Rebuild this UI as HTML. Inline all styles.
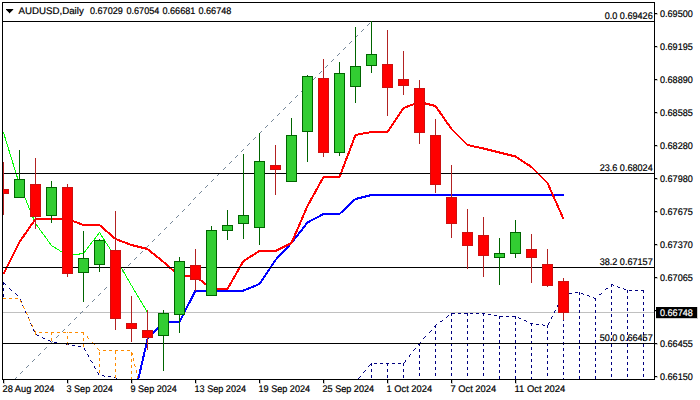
<!DOCTYPE html>
<html><head><meta charset="utf-8"><title>AUDUSD Daily</title>
<style>html,body{margin:0;padding:0;background:#fff}svg{display:block}</style>
</head><body>
<svg width="700" height="400" viewBox="0 0 700 400" shape-rendering="crispEdges">
<rect width="700" height="400" fill="#fff"/>
<defs><clipPath id="c"><rect x="3" y="3" width="651" height="376"/></clipPath></defs>
<g clip-path="url(#c)">
<rect x="3" y="312" width="651" height="1" fill="#c0c0c0"/>
<path d="M3 282h1v1h-1zM3 283h2v1h-2zM3 284h1v1h-1zM5 284h1v1h-1zM611 284h2v1h-2zM611 285h1v1h-1zM613 285h1v1h-1zM611 286h1v1h-1zM617 286h1v1h-1zM618 287h2v1h-2zM3 288h1v1h-1zM9 288h1v1h-1zM606 288h2v1h-2zM623 288h1v1h-1zM3 289h1v1h-1zM10 289h1v1h-1zM605 289h1v1h-1zM624 289h2v1h-2zM3 290h1v1h-1zM11 290h1v1h-1zM611 290h1v1h-1zM627 290h1v1h-1zM629 290h3v1h-3zM635 290h3v1h-3zM641 290h3v1h-3zM611 291h1v1h-1zM627 291h1v1h-1zM643 291h1v1h-1zM575 292h3v1h-3zM579 292h1v1h-1zM611 292h1v1h-1zM627 292h1v1h-1zM643 292h1v1h-1zM15 293h1v1h-1zM569 293h3v1h-3zM579 293h1v1h-1zM581 293h2v1h-2zM601 293h1v1h-1zM3 294h1v1h-1zM16 294h1v1h-1zM563 294h3v1h-3zM579 294h1v1h-1zM583 294h1v1h-1zM599 294h2v1h-2zM3 295h1v1h-1zM17 295h1v1h-1zM563 295h1v1h-1zM587 295h2v1h-2zM3 296h1v1h-1zM563 296h1v1h-1zM589 296h1v1h-1zM611 296h1v1h-1zM627 296h1v1h-1zM643 296h1v1h-1zM593 297h1v1h-1zM611 297h1v1h-1zM627 297h1v1h-1zM643 297h1v1h-1zM561 298h1v1h-1zM579 298h1v1h-1zM594 298h2v1h-2zM611 298h1v1h-1zM627 298h1v1h-1zM643 298h1v1h-1zM20 299h1v1h-1zM560 299h1v1h-1zM579 299h1v1h-1zM595 299h1v1h-1zM20 300h1v1h-1zM560 300h1v1h-1zM563 300h1v1h-1zM579 300h1v1h-1zM595 300h1v1h-1zM21 301h1v1h-1zM563 301h1v1h-1zM563 302h1v1h-1zM611 302h1v1h-1zM627 302h1v1h-1zM643 302h1v1h-1zM611 303h1v1h-1zM627 303h1v1h-1zM643 303h1v1h-1zM558 304h1v1h-1zM579 304h1v1h-1zM595 304h1v1h-1zM611 304h1v1h-1zM627 304h1v1h-1zM643 304h1v1h-1zM22 305h1v1h-1zM557 305h1v1h-1zM579 305h1v1h-1zM595 305h1v1h-1zM23 306h1v1h-1zM557 306h1v1h-1zM563 306h1v1h-1zM579 306h1v1h-1zM595 306h1v1h-1zM23 307h1v1h-1zM563 307h1v1h-1zM563 308h1v1h-1zM611 308h1v1h-1zM627 308h1v1h-1zM643 308h1v1h-1zM611 309h1v1h-1zM627 309h1v1h-1zM643 309h1v1h-1zM555 310h1v1h-1zM579 310h1v1h-1zM595 310h1v1h-1zM611 310h1v1h-1zM627 310h1v1h-1zM643 310h1v1h-1zM25 311h1v1h-1zM554 311h1v1h-1zM579 311h1v1h-1zM595 311h1v1h-1zM25 312h1v1h-1zM554 312h1v1h-1zM563 312h1v1h-1zM579 312h1v1h-1zM595 312h1v1h-1zM26 313h1v1h-1zM451 313h4v1h-4zM458 313h3v1h-3zM464 313h4v1h-4zM470 313h3v1h-3zM476 313h3v1h-3zM482 313h3v1h-3zM563 313h1v1h-1zM451 314h1v1h-1zM467 314h1v1h-1zM483 314h1v1h-1zM488 314h3v1h-3zM563 314h1v1h-1zM611 314h1v1h-1zM627 314h1v1h-1zM643 314h1v1h-1zM448 315h1v1h-1zM451 315h1v1h-1zM467 315h1v1h-1zM483 315h1v1h-1zM494 315h3v1h-3zM611 315h1v1h-1zM627 315h1v1h-1zM643 315h1v1h-1zM447 316h1v1h-1zM499 316h4v1h-4zM506 316h3v1h-3zM512 316h4v1h-4zM552 316h1v1h-1zM579 316h1v1h-1zM595 316h1v1h-1zM611 316h1v1h-1zM627 316h1v1h-1zM643 316h1v1h-1zM28 317h1v1h-1zM446 317h1v1h-1zM499 317h1v1h-1zM515 317h1v1h-1zM518 317h1v1h-1zM551 317h1v1h-1zM579 317h1v1h-1zM595 317h1v1h-1zM28 318h1v1h-1zM499 318h1v1h-1zM515 318h1v1h-1zM519 318h2v1h-2zM551 318h1v1h-1zM563 318h1v1h-1zM579 318h1v1h-1zM595 318h1v1h-1zM29 319h1v1h-1zM451 319h1v1h-1zM467 319h1v1h-1zM483 319h1v1h-1zM563 319h1v1h-1zM442 320h1v1h-1zM451 320h1v1h-1zM467 320h1v1h-1zM483 320h1v1h-1zM524 320h2v1h-2zM563 320h1v1h-1zM611 320h1v1h-1zM627 320h1v1h-1zM643 320h1v1h-1zM440 321h2v1h-2zM451 321h1v1h-1zM467 321h1v1h-1zM483 321h1v1h-1zM526 321h1v1h-1zM611 321h1v1h-1zM627 321h1v1h-1zM643 321h1v1h-1zM499 322h1v1h-1zM515 322h1v1h-1zM549 322h1v1h-1zM579 322h1v1h-1zM595 322h1v1h-1zM611 322h1v1h-1zM627 322h1v1h-1zM643 322h1v1h-1zM30 323h1v1h-1zM499 323h1v1h-1zM515 323h1v1h-1zM530 323h3v1h-3zM548 323h1v1h-1zM579 323h1v1h-1zM595 323h1v1h-1zM31 324h1v1h-1zM436 324h1v1h-1zM499 324h1v1h-1zM515 324h1v1h-1zM531 324h1v1h-1zM536 324h3v1h-3zM542 324h1v1h-1zM548 324h1v1h-1zM563 324h1v1h-1zM579 324h1v1h-1zM595 324h1v1h-1zM31 325h1v1h-1zM435 325h1v1h-1zM451 325h1v1h-1zM467 325h1v1h-1zM483 325h1v1h-1zM531 325h1v1h-1zM543 325h2v1h-2zM547 325h1v1h-1zM563 325h1v1h-1zM434 326h2v1h-2zM451 326h1v1h-1zM467 326h1v1h-1zM483 326h1v1h-1zM547 326h1v1h-1zM563 326h1v1h-1zM611 326h1v1h-1zM627 326h1v1h-1zM643 326h1v1h-1zM435 327h1v1h-1zM451 327h1v1h-1zM467 327h1v1h-1zM483 327h1v1h-1zM547 327h1v1h-1zM611 327h1v1h-1zM627 327h1v1h-1zM643 327h1v1h-1zM499 328h1v1h-1zM515 328h1v1h-1zM579 328h1v1h-1zM595 328h1v1h-1zM611 328h1v1h-1zM627 328h1v1h-1zM643 328h1v1h-1zM33 329h1v1h-1zM499 329h1v1h-1zM515 329h1v1h-1zM531 329h1v1h-1zM579 329h1v1h-1zM595 329h1v1h-1zM33 330h1v1h-1zM431 330h1v1h-1zM499 330h1v1h-1zM515 330h1v1h-1zM531 330h1v1h-1zM563 330h1v1h-1zM579 330h1v1h-1zM595 330h1v1h-1zM34 331h1v1h-1zM430 331h1v1h-1zM435 331h1v1h-1zM451 331h1v1h-1zM467 331h1v1h-1zM483 331h1v1h-1zM531 331h1v1h-1zM547 331h1v1h-1zM563 331h1v1h-1zM429 332h1v1h-1zM435 332h1v1h-1zM451 332h1v1h-1zM467 332h1v1h-1zM483 332h1v1h-1zM547 332h1v1h-1zM563 332h1v1h-1zM611 332h1v1h-1zM627 332h1v1h-1zM643 332h1v1h-1zM435 333h1v1h-1zM451 333h1v1h-1zM467 333h1v1h-1zM483 333h1v1h-1zM547 333h1v1h-1zM611 333h1v1h-1zM627 333h1v1h-1zM643 333h1v1h-1zM36 334h1v1h-1zM499 334h1v1h-1zM515 334h1v1h-1zM579 334h1v1h-1zM595 334h1v1h-1zM611 334h1v1h-1zM627 334h1v1h-1zM643 334h1v1h-1zM37 335h2v1h-2zM499 335h1v1h-1zM515 335h1v1h-1zM531 335h1v1h-1zM579 335h1v1h-1zM595 335h1v1h-1zM425 336h1v1h-1zM499 336h1v1h-1zM515 336h1v1h-1zM531 336h1v1h-1zM563 336h1v1h-1zM579 336h1v1h-1zM595 336h1v1h-1zM42 337h1v1h-1zM424 337h1v1h-1zM435 337h1v1h-1zM451 337h1v1h-1zM467 337h1v1h-1zM483 337h1v1h-1zM531 337h1v1h-1zM547 337h1v1h-1zM563 337h1v1h-1zM43 338h2v1h-2zM423 338h1v1h-1zM435 338h1v1h-1zM451 338h1v1h-1zM467 338h1v1h-1zM483 338h1v1h-1zM547 338h1v1h-1zM563 338h1v1h-1zM611 338h1v1h-1zM627 338h1v1h-1zM643 338h1v1h-1zM435 339h1v1h-1zM451 339h1v1h-1zM467 339h1v1h-1zM483 339h1v1h-1zM547 339h1v1h-1zM611 339h1v1h-1zM627 339h1v1h-1zM643 339h1v1h-1zM48 340h2v1h-2zM499 340h1v1h-1zM515 340h1v1h-1zM579 340h1v1h-1zM595 340h1v1h-1zM611 340h1v1h-1zM627 340h1v1h-1zM643 340h1v1h-1zM50 341h1v1h-1zM499 341h1v1h-1zM515 341h1v1h-1zM531 341h1v1h-1zM579 341h1v1h-1zM595 341h1v1h-1zM54 342h3v1h-3zM420 342h1v1h-1zM499 342h1v1h-1zM515 342h1v1h-1zM531 342h1v1h-1zM563 342h1v1h-1zM579 342h1v1h-1zM595 342h1v1h-1zM60 343h3v1h-3zM419 343h1v1h-1zM435 343h1v1h-1zM451 343h1v1h-1zM467 343h1v1h-1zM483 343h1v1h-1zM531 343h1v1h-1zM547 343h1v1h-1zM563 343h1v1h-1zM66 344h3v1h-3zM418 344h2v1h-2zM435 344h1v1h-1zM451 344h1v1h-1zM467 344h1v1h-1zM483 344h1v1h-1zM547 344h1v1h-1zM563 344h1v1h-1zM611 344h1v1h-1zM627 344h1v1h-1zM643 344h1v1h-1zM72 345h3v1h-3zM419 345h1v1h-1zM435 345h1v1h-1zM451 345h1v1h-1zM467 345h1v1h-1zM483 345h1v1h-1zM547 345h1v1h-1zM611 345h1v1h-1zM627 345h1v1h-1zM643 345h1v1h-1zM78 346h3v1h-3zM499 346h1v1h-1zM515 346h1v1h-1zM579 346h1v1h-1zM595 346h1v1h-1zM611 346h1v1h-1zM627 346h1v1h-1zM643 346h1v1h-1zM499 347h1v1h-1zM515 347h1v1h-1zM531 347h1v1h-1zM579 347h1v1h-1zM595 347h1v1h-1zM84 348h1v1h-1zM415 348h1v1h-1zM499 348h1v1h-1zM515 348h1v1h-1zM531 348h1v1h-1zM563 348h1v1h-1zM579 348h1v1h-1zM595 348h1v1h-1zM84 349h1v1h-1zM414 349h1v1h-1zM419 349h1v1h-1zM435 349h1v1h-1zM451 349h1v1h-1zM467 349h1v1h-1zM483 349h1v1h-1zM531 349h1v1h-1zM547 349h1v1h-1zM563 349h1v1h-1zM85 350h1v1h-1zM413 350h1v1h-1zM419 350h1v1h-1zM435 350h1v1h-1zM451 350h1v1h-1zM467 350h1v1h-1zM483 350h1v1h-1zM547 350h1v1h-1zM563 350h1v1h-1zM611 350h1v1h-1zM627 350h1v1h-1zM643 350h1v1h-1zM419 351h1v1h-1zM435 351h1v1h-1zM451 351h1v1h-1zM467 351h1v1h-1zM483 351h1v1h-1zM547 351h1v1h-1zM611 351h1v1h-1zM627 351h1v1h-1zM643 351h1v1h-1zM499 352h1v1h-1zM515 352h1v1h-1zM579 352h1v1h-1zM595 352h1v1h-1zM611 352h1v1h-1zM627 352h1v1h-1zM643 352h1v1h-1zM499 353h1v1h-1zM515 353h1v1h-1zM531 353h1v1h-1zM579 353h1v1h-1zM595 353h1v1h-1zM87 354h1v1h-1zM410 354h1v1h-1zM499 354h1v1h-1zM515 354h1v1h-1zM531 354h1v1h-1zM563 354h1v1h-1zM579 354h1v1h-1zM595 354h1v1h-1zM88 355h1v1h-1zM409 355h1v1h-1zM419 355h1v1h-1zM435 355h1v1h-1zM451 355h1v1h-1zM467 355h1v1h-1zM483 355h1v1h-1zM531 355h1v1h-1zM547 355h1v1h-1zM563 355h1v1h-1zM88 356h1v1h-1zM409 356h1v1h-1zM419 356h1v1h-1zM435 356h1v1h-1zM451 356h1v1h-1zM467 356h1v1h-1zM483 356h1v1h-1zM547 356h1v1h-1zM563 356h1v1h-1zM611 356h1v1h-1zM627 356h1v1h-1zM643 356h1v1h-1zM419 357h1v1h-1zM435 357h1v1h-1zM451 357h1v1h-1zM467 357h1v1h-1zM483 357h1v1h-1zM547 357h1v1h-1zM611 357h1v1h-1zM627 357h1v1h-1zM643 357h1v1h-1zM499 358h1v1h-1zM515 358h1v1h-1zM579 358h1v1h-1zM595 358h1v1h-1zM611 358h1v1h-1zM627 358h1v1h-1zM643 358h1v1h-1zM499 359h1v1h-1zM515 359h1v1h-1zM531 359h1v1h-1zM579 359h1v1h-1zM595 359h1v1h-1zM90 360h1v1h-1zM405 360h1v1h-1zM499 360h1v1h-1zM515 360h1v1h-1zM531 360h1v1h-1zM563 360h1v1h-1zM579 360h1v1h-1zM595 360h1v1h-1zM91 361h1v1h-1zM405 361h1v1h-1zM419 361h1v1h-1zM435 361h1v1h-1zM451 361h1v1h-1zM467 361h1v1h-1zM483 361h1v1h-1zM531 361h1v1h-1zM547 361h1v1h-1zM563 361h1v1h-1zM92 362h1v1h-1zM404 362h1v1h-1zM419 362h1v1h-1zM435 362h1v1h-1zM451 362h1v1h-1zM467 362h1v1h-1zM483 362h1v1h-1zM547 362h1v1h-1zM563 362h1v1h-1zM611 362h1v1h-1zM627 362h1v1h-1zM643 362h1v1h-1zM371 363h1v1h-1zM374 363h3v1h-3zM380 363h3v1h-3zM386 363h3v1h-3zM392 363h3v1h-3zM398 363h3v1h-3zM403 363h1v1h-1zM419 363h1v1h-1zM435 363h1v1h-1zM451 363h1v1h-1zM467 363h1v1h-1zM483 363h1v1h-1zM547 363h1v1h-1zM611 363h1v1h-1zM627 363h1v1h-1zM643 363h1v1h-1zM370 364h2v1h-2zM387 364h1v1h-1zM403 364h1v1h-1zM499 364h1v1h-1zM515 364h1v1h-1zM579 364h1v1h-1zM595 364h1v1h-1zM611 364h1v1h-1zM627 364h1v1h-1zM643 364h1v1h-1zM369 365h1v1h-1zM371 365h1v1h-1zM387 365h1v1h-1zM403 365h1v1h-1zM499 365h1v1h-1zM515 365h1v1h-1zM531 365h1v1h-1zM579 365h1v1h-1zM595 365h1v1h-1zM94 366h1v1h-1zM368 366h1v1h-1zM499 366h1v1h-1zM515 366h1v1h-1zM531 366h1v1h-1zM563 366h1v1h-1zM579 366h1v1h-1zM595 366h1v1h-1zM94 367h1v1h-1zM419 367h1v1h-1zM435 367h1v1h-1zM451 367h1v1h-1zM467 367h1v1h-1zM483 367h1v1h-1zM531 367h1v1h-1zM547 367h1v1h-1zM563 367h1v1h-1zM95 368h1v1h-1zM419 368h1v1h-1zM435 368h1v1h-1zM451 368h1v1h-1zM467 368h1v1h-1zM483 368h1v1h-1zM547 368h1v1h-1zM563 368h1v1h-1zM611 368h1v1h-1zM627 368h1v1h-1zM643 368h1v1h-1zM371 369h1v1h-1zM387 369h1v1h-1zM403 369h1v1h-1zM419 369h1v1h-1zM435 369h1v1h-1zM451 369h1v1h-1zM467 369h1v1h-1zM483 369h1v1h-1zM547 369h1v1h-1zM611 369h1v1h-1zM627 369h1v1h-1zM643 369h1v1h-1zM365 370h1v1h-1zM371 370h1v1h-1zM387 370h1v1h-1zM403 370h1v1h-1zM499 370h1v1h-1zM515 370h1v1h-1zM579 370h1v1h-1zM595 370h1v1h-1zM611 370h1v1h-1zM627 370h1v1h-1zM643 370h1v1h-1zM364 371h1v1h-1zM371 371h1v1h-1zM387 371h1v1h-1zM403 371h1v1h-1zM499 371h1v1h-1zM515 371h1v1h-1zM531 371h1v1h-1zM579 371h1v1h-1zM595 371h1v1h-1zM97 372h1v1h-1zM363 372h1v1h-1zM499 372h1v1h-1zM515 372h1v1h-1zM531 372h1v1h-1zM563 372h1v1h-1zM579 372h1v1h-1zM595 372h1v1h-1zM98 373h1v1h-1zM419 373h1v1h-1zM435 373h1v1h-1zM451 373h1v1h-1zM467 373h1v1h-1zM483 373h1v1h-1zM531 373h1v1h-1zM547 373h1v1h-1zM563 373h1v1h-1zM98 374h1v1h-1zM419 374h1v1h-1zM435 374h1v1h-1zM451 374h1v1h-1zM467 374h1v1h-1zM483 374h1v1h-1zM547 374h1v1h-1zM563 374h1v1h-1zM611 374h1v1h-1zM627 374h1v1h-1zM643 374h1v1h-1zM102 375h2v1h-2zM371 375h1v1h-1zM387 375h1v1h-1zM403 375h1v1h-1zM419 375h1v1h-1zM435 375h1v1h-1zM451 375h1v1h-1zM467 375h1v1h-1zM483 375h1v1h-1zM547 375h1v1h-1zM611 375h1v1h-1zM627 375h1v1h-1zM643 375h1v1h-1zM104 376h1v1h-1zM108 376h3v1h-3zM360 376h1v1h-1zM371 376h1v1h-1zM387 376h1v1h-1zM403 376h1v1h-1zM499 376h1v1h-1zM515 376h1v1h-1zM579 376h1v1h-1zM595 376h1v1h-1zM611 376h1v1h-1zM627 376h1v1h-1zM643 376h1v1h-1zM114 377h2v1h-2zM359 377h1v1h-1zM371 377h1v1h-1zM387 377h1v1h-1zM403 377h1v1h-1zM499 377h1v1h-1zM515 377h1v1h-1zM531 377h1v1h-1zM579 377h1v1h-1zM595 377h1v1h-1zM116 378h1v1h-1zM358 378h1v1h-1zM499 378h1v1h-1zM515 378h1v1h-1zM531 378h1v1h-1zM563 378h1v1h-1zM579 378h1v1h-1zM595 378h1v1h-1z" fill="#000080"/>
<path d="M3 298h3v1h-3zM9 298h3v1h-3zM15 298h3v1h-3zM20 300h1v1h-1zM20 301h1v1h-1zM21 302h1v1h-1zM23 306h1v1h-1zM23 307h1v1h-1zM24 308h1v1h-1zM26 312h1v1h-1zM26 313h1v1h-1zM27 314h1v1h-1zM28 318h1v1h-1zM29 319h1v1h-1zM29 320h1v1h-1zM31 324h1v1h-1zM32 325h1v1h-1zM32 326h1v1h-1zM34 330h1v1h-1zM35 331h1v1h-1zM35 332h1v1h-1zM39 332h3v1h-3zM45 332h3v1h-3zM51 332h3v1h-3zM57 332h3v1h-3zM63 332h3v1h-3zM67 332h1v1h-1zM69 332h3v1h-3zM75 332h3v1h-3zM81 332h3v1h-3zM35 333h1v1h-1zM51 333h1v1h-1zM83 333h1v1h-1zM35 334h1v1h-1zM51 334h1v1h-1zM83 334h1v1h-1zM67 336h1v1h-1zM87 336h1v1h-1zM67 337h1v1h-1zM87 337h1v1h-1zM51 338h1v1h-1zM67 338h1v1h-1zM83 338h1v1h-1zM88 338h1v1h-1zM51 339h1v1h-1zM83 339h1v1h-1zM51 340h1v1h-1zM83 340h1v1h-1zM67 342h1v1h-1zM92 342h1v1h-1zM67 343h1v1h-1zM93 343h1v1h-1zM67 344h1v1h-1zM83 344h1v1h-1zM94 344h1v1h-1zM83 345h1v1h-1zM83 346h1v1h-1zM97 348h1v1h-1zM98 349h1v1h-1zM99 350h1v1h-1zM103 350h3v1h-3zM109 350h3v1h-3zM115 350h3v1h-3zM121 350h3v1h-3zM127 350h3v1h-3zM115 351h1v1h-1zM99 352h1v1h-1zM115 352h1v1h-1zM131 352h1v1h-1zM99 353h1v1h-1zM115 353h1v1h-1zM131 353h2v1h-2zM99 354h1v1h-1zM131 354h2v1h-2zM131 355h1v1h-1zM115 357h1v1h-1zM99 358h1v1h-1zM115 358h1v1h-1zM133 358h1v1h-1zM99 359h1v1h-1zM115 359h1v1h-1zM131 359h1v1h-1zM133 359h1v1h-1zM99 360h1v1h-1zM131 360h1v1h-1zM133 360h1v1h-1zM131 361h1v1h-1zM115 363h1v1h-1zM99 364h1v1h-1zM115 364h1v1h-1zM134 364h1v1h-1zM99 365h1v1h-1zM115 365h1v1h-1zM131 365h1v1h-1zM134 365h1v1h-1zM99 366h1v1h-1zM131 366h1v1h-1zM135 366h1v1h-1zM131 367h1v1h-1zM115 369h1v1h-1zM99 370h1v1h-1zM115 370h1v1h-1zM136 370h1v1h-1zM99 371h1v1h-1zM115 371h1v1h-1zM131 371h1v1h-1zM136 371h1v1h-1zM99 372h1v1h-1zM131 372h1v1h-1zM136 372h1v1h-1zM131 373h1v1h-1zM115 375h1v1h-1zM115 376h1v1h-1zM137 376h1v1h-1zM115 377h1v1h-1zM131 377h1v1h-1zM137 377h1v1h-1zM131 378h1v1h-1zM137 378h1v1h-1z" fill="#ff8c00"/>
<polyline points="3.5,132.5 19.5,184.5 35.5,223.5 51.5,245.5 67.5,255.5 83.5,253.5 99.5,232.5 115.5,257.5 131.5,285.5 147.5,312.5" fill="none" stroke="#00ff00" stroke-width="1" />
<polyline points="131.5,409 147.5,339 163.5,322 179.5,322 195.5,290.5 211.5,290.5 227.5,290.5 243.5,290.5 259.5,284 275.5,260 291.5,243 307.5,222.5 323.5,214 339.5,214 355.5,199 371.5,195 387.5,195 403.5,195 419.5,195 435.5,195 451.5,195 467.5,195 483.5,195 499.5,195 515.5,195 531.5,195 547.5,195 563.5,195" fill="none" stroke="#0000ff" stroke-width="2" stroke-linejoin="round"/>
<polyline points="3.5,274 19.5,242 35.5,219 51.5,219 67.5,219 83.5,225 99.5,225 115.5,239 131.5,245 147.5,249 163.5,262 179.5,276 195.5,276 211.5,289 227.5,289 243.5,261 259.5,251 275.5,251 291.5,243 307.5,206 323.5,177 339.5,177 355.5,135 371.5,132 387.5,132 403.5,108 419.5,102 435.5,106 451.5,129 467.5,145 483.5,148.5 499.5,152.5 515.5,156.5 531.5,167 547.5,183 563.5,219" fill="none" stroke="#ff0000" stroke-width="2" stroke-linejoin="round"/>
<path d="M369 23h1v1h-1zM368 24h1v1h-1zM367 25h1v1h-1zM363 29h1v1h-1zM362 30h1v1h-1zM361 31h1v1h-1zM357 35h1v1h-1zM356 36h1v1h-1zM355 37h1v1h-1zM351 41h1v1h-1zM350 42h1v1h-1zM349 43h1v1h-1zM345 47h1v1h-1zM344 48h1v1h-1zM343 49h1v1h-1zM339 53h1v1h-1zM338 54h1v1h-1zM337 55h1v1h-1zM333 59h1v1h-1zM332 60h1v1h-1zM331 61h1v1h-1zM327 65h1v1h-1zM326 66h1v1h-1zM325 67h1v1h-1zM321 71h1v1h-1zM320 72h1v1h-1zM319 73h1v1h-1zM315 77h1v1h-1zM314 78h1v1h-1zM313 79h1v1h-1zM309 83h1v1h-1zM308 84h1v1h-1zM307 85h1v1h-1zM303 89h1v1h-1zM302 90h1v1h-1zM301 91h1v1h-1zM297 95h1v1h-1zM296 96h1v1h-1zM295 97h1v1h-1zM291 101h1v1h-1zM290 102h1v1h-1zM289 103h1v1h-1zM285 107h1v1h-1zM284 108h1v1h-1zM283 109h1v1h-1zM279 113h1v1h-1zM278 114h1v1h-1zM277 115h1v1h-1zM273 119h1v1h-1zM272 120h1v1h-1zM271 121h1v1h-1zM267 125h1v1h-1zM266 126h1v1h-1zM265 127h1v1h-1zM261 131h1v1h-1zM260 132h1v1h-1zM259 133h1v1h-1zM255 137h1v1h-1zM254 138h1v1h-1zM253 139h1v1h-1zM249 143h1v1h-1zM248 144h1v1h-1zM247 145h1v1h-1zM243 149h1v1h-1zM242 150h1v1h-1zM241 151h1v1h-1zM237 155h1v1h-1zM236 156h1v1h-1zM235 157h1v1h-1zM231 161h1v1h-1zM230 162h1v1h-1zM229 163h1v1h-1zM225 167h1v1h-1zM224 168h1v1h-1zM223 169h1v1h-1zM219 173h1v1h-1zM218 174h1v1h-1zM217 175h1v1h-1zM213 179h1v1h-1zM212 180h1v1h-1zM211 181h1v1h-1zM207 185h1v1h-1zM206 186h1v1h-1zM205 187h1v1h-1zM201 191h1v1h-1zM200 192h1v1h-1zM199 193h1v1h-1zM195 197h1v1h-1zM194 198h1v1h-1zM193 199h1v1h-1zM190 203h1v1h-1zM189 204h1v1h-1zM188 205h1v1h-1zM184 209h1v1h-1zM183 210h1v1h-1zM182 211h1v1h-1zM178 215h1v1h-1zM177 216h1v1h-1zM176 217h1v1h-1zM172 221h1v1h-1zM171 222h1v1h-1zM170 223h1v1h-1zM166 227h1v1h-1zM165 228h1v1h-1zM164 229h1v1h-1zM160 233h1v1h-1zM159 234h1v1h-1zM158 235h1v1h-1zM154 239h1v1h-1zM153 240h1v1h-1zM152 241h1v1h-1zM148 245h1v1h-1zM147 246h1v1h-1zM146 247h1v1h-1zM142 251h1v1h-1zM141 252h1v1h-1zM140 253h1v1h-1zM136 257h1v1h-1zM135 258h1v1h-1zM134 259h1v1h-1zM130 263h1v1h-1zM129 264h1v1h-1zM128 265h1v1h-1zM124 269h1v1h-1zM123 270h1v1h-1zM122 271h1v1h-1zM118 275h1v1h-1zM117 276h1v1h-1zM116 277h1v1h-1zM112 281h1v1h-1zM111 282h1v1h-1zM110 283h1v1h-1zM106 287h1v1h-1zM105 288h1v1h-1zM104 289h1v1h-1zM100 293h1v1h-1zM99 294h1v1h-1zM98 295h1v1h-1zM94 299h1v1h-1zM93 300h1v1h-1zM92 301h1v1h-1zM88 305h1v1h-1zM87 306h1v1h-1zM86 307h1v1h-1zM82 311h1v1h-1zM81 312h1v1h-1zM80 313h1v1h-1zM76 317h1v1h-1zM75 318h1v1h-1zM74 319h1v1h-1zM70 323h1v1h-1zM69 324h1v1h-1zM68 325h1v1h-1zM64 329h1v1h-1zM63 330h1v1h-1zM62 331h1v1h-1zM58 335h1v1h-1zM57 336h1v1h-1zM56 337h1v1h-1zM52 341h1v1h-1zM51 342h1v1h-1zM50 343h1v1h-1zM46 347h1v1h-1zM45 348h1v1h-1zM44 349h1v1h-1zM40 353h1v1h-1zM39 354h1v1h-1zM38 355h1v1h-1zM34 359h1v1h-1zM33 360h1v1h-1zM32 361h1v1h-1zM28 365h1v1h-1zM27 366h1v1h-1zM26 367h1v1h-1zM22 371h1v1h-1zM21 372h1v1h-1zM20 373h1v1h-1zM16 377h1v1h-1zM15 378h1v1h-1z" fill="#778899"/>
<rect x="3" y="21" width="651" height="1" fill="#000"/>
<rect x="3" y="173" width="651" height="1" fill="#000"/>
<rect x="3" y="267" width="651" height="1" fill="#000"/>
<rect x="3" y="343" width="651" height="1" fill="#000"/>
<rect x="3" y="162" width="1" height="53" fill="#b22222"/>
<rect x="-2" y="189" width="11" height="5" fill="#cc1010"/>
<rect x="-1" y="190" width="9" height="3" fill="#ff0000"/>
<rect x="19" y="150" width="1" height="48" fill="#006400"/>
<rect x="14" y="179" width="11" height="19" fill="#006400"/>
<rect x="15" y="180" width="9" height="17" fill="#32cd32"/>
<rect x="35" y="158" width="1" height="71" fill="#b22222"/>
<rect x="30" y="184" width="11" height="33" fill="#cc1010"/>
<rect x="31" y="185" width="9" height="31" fill="#ff0000"/>
<rect x="51" y="181" width="1" height="42" fill="#006400"/>
<rect x="46" y="187" width="11" height="29" fill="#006400"/>
<rect x="47" y="188" width="9" height="27" fill="#32cd32"/>
<rect x="67" y="184" width="1" height="93" fill="#b22222"/>
<rect x="62" y="187" width="11" height="87" fill="#cc1010"/>
<rect x="63" y="188" width="9" height="85" fill="#ff0000"/>
<rect x="83" y="231" width="1" height="71" fill="#006400"/>
<rect x="78" y="258" width="11" height="15" fill="#006400"/>
<rect x="79" y="259" width="9" height="13" fill="#32cd32"/>
<rect x="99" y="239" width="1" height="33" fill="#006400"/>
<rect x="94" y="240" width="11" height="25" fill="#006400"/>
<rect x="95" y="241" width="9" height="23" fill="#32cd32"/>
<rect x="115" y="211" width="1" height="119" fill="#b22222"/>
<rect x="110" y="250" width="11" height="69" fill="#cc1010"/>
<rect x="111" y="251" width="9" height="67" fill="#ff0000"/>
<rect x="131" y="296" width="1" height="46" fill="#b22222"/>
<rect x="126" y="323" width="11" height="6" fill="#cc1010"/>
<rect x="127" y="324" width="9" height="4" fill="#ff0000"/>
<rect x="147" y="310" width="1" height="40" fill="#b22222"/>
<rect x="142" y="330" width="11" height="8" fill="#cc1010"/>
<rect x="143" y="331" width="9" height="6" fill="#ff0000"/>
<rect x="163" y="310" width="1" height="61" fill="#006400"/>
<rect x="158" y="313" width="11" height="23" fill="#006400"/>
<rect x="159" y="314" width="9" height="21" fill="#32cd32"/>
<rect x="179" y="257" width="1" height="76" fill="#006400"/>
<rect x="174" y="261" width="11" height="54" fill="#006400"/>
<rect x="175" y="262" width="9" height="52" fill="#32cd32"/>
<rect x="195" y="249" width="1" height="42" fill="#b22222"/>
<rect x="190" y="265" width="11" height="15" fill="#cc1010"/>
<rect x="191" y="266" width="9" height="13" fill="#ff0000"/>
<rect x="211" y="226" width="1" height="70" fill="#006400"/>
<rect x="206" y="230" width="11" height="66" fill="#006400"/>
<rect x="207" y="231" width="9" height="64" fill="#32cd32"/>
<rect x="227" y="210" width="1" height="30" fill="#006400"/>
<rect x="222" y="225" width="11" height="6" fill="#006400"/>
<rect x="223" y="226" width="9" height="4" fill="#32cd32"/>
<rect x="243" y="154" width="1" height="85" fill="#006400"/>
<rect x="238" y="215" width="11" height="9" fill="#006400"/>
<rect x="239" y="216" width="9" height="7" fill="#32cd32"/>
<rect x="259" y="133" width="1" height="112" fill="#006400"/>
<rect x="254" y="161" width="11" height="67" fill="#006400"/>
<rect x="255" y="162" width="9" height="65" fill="#32cd32"/>
<rect x="275" y="145" width="1" height="50" fill="#b22222"/>
<rect x="270" y="165" width="11" height="5" fill="#cc1010"/>
<rect x="271" y="166" width="9" height="3" fill="#ff0000"/>
<rect x="291" y="118" width="1" height="64" fill="#006400"/>
<rect x="286" y="135" width="11" height="47" fill="#006400"/>
<rect x="287" y="136" width="9" height="45" fill="#32cd32"/>
<rect x="307" y="75" width="1" height="87" fill="#006400"/>
<rect x="302" y="76" width="11" height="56" fill="#006400"/>
<rect x="303" y="77" width="9" height="54" fill="#32cd32"/>
<rect x="323" y="59" width="1" height="98" fill="#b22222"/>
<rect x="318" y="78" width="11" height="75" fill="#cc1010"/>
<rect x="319" y="79" width="9" height="73" fill="#ff0000"/>
<rect x="339" y="62" width="1" height="94" fill="#006400"/>
<rect x="334" y="73" width="11" height="80" fill="#006400"/>
<rect x="335" y="74" width="9" height="78" fill="#32cd32"/>
<rect x="355" y="27" width="1" height="76" fill="#006400"/>
<rect x="350" y="66" width="11" height="21" fill="#006400"/>
<rect x="351" y="67" width="9" height="19" fill="#32cd32"/>
<rect x="371" y="21" width="1" height="52" fill="#006400"/>
<rect x="366" y="54" width="11" height="12" fill="#006400"/>
<rect x="367" y="55" width="9" height="10" fill="#32cd32"/>
<rect x="387" y="30" width="1" height="86" fill="#b22222"/>
<rect x="382" y="64" width="11" height="24" fill="#cc1010"/>
<rect x="383" y="65" width="9" height="22" fill="#ff0000"/>
<rect x="403" y="51" width="1" height="44" fill="#b22222"/>
<rect x="398" y="79" width="11" height="7" fill="#cc1010"/>
<rect x="399" y="80" width="9" height="5" fill="#ff0000"/>
<rect x="419" y="80" width="1" height="64" fill="#b22222"/>
<rect x="414" y="88" width="11" height="45" fill="#cc1010"/>
<rect x="415" y="89" width="9" height="43" fill="#ff0000"/>
<rect x="435" y="119" width="1" height="74" fill="#b22222"/>
<rect x="430" y="135" width="11" height="50" fill="#cc1010"/>
<rect x="431" y="136" width="9" height="48" fill="#ff0000"/>
<rect x="451" y="165" width="1" height="73" fill="#b22222"/>
<rect x="446" y="197" width="11" height="27" fill="#cc1010"/>
<rect x="447" y="198" width="9" height="25" fill="#ff0000"/>
<rect x="467" y="209" width="1" height="60" fill="#b22222"/>
<rect x="462" y="232" width="11" height="14" fill="#cc1010"/>
<rect x="463" y="233" width="9" height="12" fill="#ff0000"/>
<rect x="483" y="217" width="1" height="60" fill="#b22222"/>
<rect x="478" y="235" width="11" height="21" fill="#cc1010"/>
<rect x="479" y="236" width="9" height="19" fill="#ff0000"/>
<rect x="499" y="238" width="1" height="47" fill="#006400"/>
<rect x="494" y="253" width="11" height="5" fill="#006400"/>
<rect x="495" y="254" width="9" height="3" fill="#32cd32"/>
<rect x="515" y="220" width="1" height="38" fill="#006400"/>
<rect x="510" y="232" width="11" height="22" fill="#006400"/>
<rect x="511" y="233" width="9" height="20" fill="#32cd32"/>
<rect x="531" y="234" width="1" height="49" fill="#b22222"/>
<rect x="526" y="249" width="11" height="9" fill="#cc1010"/>
<rect x="527" y="250" width="9" height="7" fill="#ff0000"/>
<rect x="547" y="249" width="1" height="38" fill="#b22222"/>
<rect x="542" y="264" width="11" height="22" fill="#cc1010"/>
<rect x="543" y="265" width="9" height="20" fill="#ff0000"/>
<rect x="563" y="278" width="1" height="42" fill="#b22222"/>
<rect x="558" y="281" width="11" height="32" fill="#cc1010"/>
<rect x="559" y="282" width="9" height="30" fill="#ff0000"/>
</g>
<rect x="2" y="2" width="653" height="1" fill="#000"/>
<rect x="2" y="2" width="1" height="378" fill="#000"/>
<rect x="654" y="2" width="1" height="378" fill="#000"/>
<rect x="2" y="379" width="653" height="1" fill="#000"/>
<g font-family='"Liberation Sans", Arial, sans-serif' font-size="9.6" fill="#000" stroke="#000" stroke-width="0.2" text-rendering="geometricPrecision" shape-rendering="auto">
<path d="M6 9h7v1h-1v1h-1v1h-1v1h-1v-1h-1v-1h-1v-1h-1z" fill="#000" shape-rendering="crispEdges"/>
<text x="18.5" y="14" textLength="65.3" lengthAdjust="spacingAndGlyphs">AUDUSD,Daily</text>
<text x="90" y="14" textLength="32.8" lengthAdjust="spacingAndGlyphs">0.67029</text>
<text x="126.5" y="14" textLength="32.8" lengthAdjust="spacingAndGlyphs">0.67054</text>
<text x="162.5" y="14" textLength="32.8" lengthAdjust="spacingAndGlyphs">0.66681</text>
<text x="198.5" y="14" textLength="32.8" lengthAdjust="spacingAndGlyphs">0.66748</text>
<text x="604.7" y="18.5" textLength="48" lengthAdjust="spacingAndGlyphs">0.0 0.69426</text>
<text x="599.7" y="170.5" textLength="53" lengthAdjust="spacingAndGlyphs">23.6 0.68024</text>
<text x="599.7" y="264.5" textLength="53" lengthAdjust="spacingAndGlyphs">38.2 0.67157</text>
<text x="599.7" y="340.5" textLength="53" lengthAdjust="spacingAndGlyphs">50.0 0.66457</text>
<rect x="655" y="13" width="2" height="1" fill="#000" shape-rendering="crispEdges"/>
<text x="660" y="17" textLength="32.8" lengthAdjust="spacingAndGlyphs">0.69500</text>
<rect x="655" y="46" width="2" height="1" fill="#000" shape-rendering="crispEdges"/>
<text x="660" y="50" textLength="32.8" lengthAdjust="spacingAndGlyphs">0.69195</text>
<rect x="655" y="79" width="2" height="1" fill="#000" shape-rendering="crispEdges"/>
<text x="660" y="83" textLength="32.8" lengthAdjust="spacingAndGlyphs">0.68890</text>
<rect x="655" y="112" width="2" height="1" fill="#000" shape-rendering="crispEdges"/>
<text x="660" y="116" textLength="32.8" lengthAdjust="spacingAndGlyphs">0.68585</text>
<rect x="655" y="145" width="2" height="1" fill="#000" shape-rendering="crispEdges"/>
<text x="660" y="149" textLength="32.8" lengthAdjust="spacingAndGlyphs">0.68280</text>
<rect x="655" y="178" width="2" height="1" fill="#000" shape-rendering="crispEdges"/>
<text x="660" y="182" textLength="32.8" lengthAdjust="spacingAndGlyphs">0.67980</text>
<rect x="655" y="211" width="2" height="1" fill="#000" shape-rendering="crispEdges"/>
<text x="660" y="215" textLength="32.8" lengthAdjust="spacingAndGlyphs">0.67675</text>
<rect x="655" y="244" width="2" height="1" fill="#000" shape-rendering="crispEdges"/>
<text x="660" y="248" textLength="32.8" lengthAdjust="spacingAndGlyphs">0.67370</text>
<rect x="655" y="277" width="2" height="1" fill="#000" shape-rendering="crispEdges"/>
<text x="660" y="281" textLength="32.8" lengthAdjust="spacingAndGlyphs">0.67065</text>
<rect x="655" y="343" width="2" height="1" fill="#000" shape-rendering="crispEdges"/>
<text x="660" y="347" textLength="32.8" lengthAdjust="spacingAndGlyphs">0.66455</text>
<rect x="655" y="376" width="2" height="1" fill="#000" shape-rendering="crispEdges"/>
<text x="660" y="380" textLength="32.8" lengthAdjust="spacingAndGlyphs">0.66150</text>
<rect x="656" y="307" width="41" height="11" fill="#000" shape-rendering="crispEdges"/>
<rect x="655" y="310" width="1" height="1" fill="#000" shape-rendering="crispEdges"/>
<text x="660" y="316" fill="#fff" stroke="#fff" textLength="32.8" lengthAdjust="spacingAndGlyphs">0.66748</text>
<rect x="3" y="380" width="1" height="3" fill="#000" shape-rendering="crispEdges"/>
<text x="2.5" y="392" textLength="52" lengthAdjust="spacingAndGlyphs">28 Aug 2024</text>
<rect x="67" y="380" width="1" height="3" fill="#000" shape-rendering="crispEdges"/>
<text x="66.5" y="392" textLength="46.4" lengthAdjust="spacingAndGlyphs">3 Sep 2024</text>
<rect x="131" y="380" width="1" height="3" fill="#000" shape-rendering="crispEdges"/>
<text x="130.5" y="392" textLength="46.4" lengthAdjust="spacingAndGlyphs">9 Sep 2024</text>
<rect x="195" y="380" width="1" height="3" fill="#000" shape-rendering="crispEdges"/>
<text x="194.5" y="392" textLength="51.6" lengthAdjust="spacingAndGlyphs">13 Sep 2024</text>
<rect x="259" y="380" width="1" height="3" fill="#000" shape-rendering="crispEdges"/>
<text x="258.5" y="392" textLength="51.6" lengthAdjust="spacingAndGlyphs">19 Sep 2024</text>
<rect x="323" y="380" width="1" height="3" fill="#000" shape-rendering="crispEdges"/>
<text x="322.5" y="392" textLength="51.6" lengthAdjust="spacingAndGlyphs">25 Sep 2024</text>
<rect x="387" y="380" width="1" height="3" fill="#000" shape-rendering="crispEdges"/>
<text x="386.5" y="392" textLength="45.6" lengthAdjust="spacingAndGlyphs">1 Oct 2024</text>
<rect x="451" y="380" width="1" height="3" fill="#000" shape-rendering="crispEdges"/>
<text x="450.5" y="392" textLength="45.6" lengthAdjust="spacingAndGlyphs">7 Oct 2024</text>
<rect x="515" y="380" width="1" height="3" fill="#000" shape-rendering="crispEdges"/>
<text x="514.5" y="392" textLength="50.8" lengthAdjust="spacingAndGlyphs">11 Oct 2024</text>
</g>
</svg>
</body></html>
